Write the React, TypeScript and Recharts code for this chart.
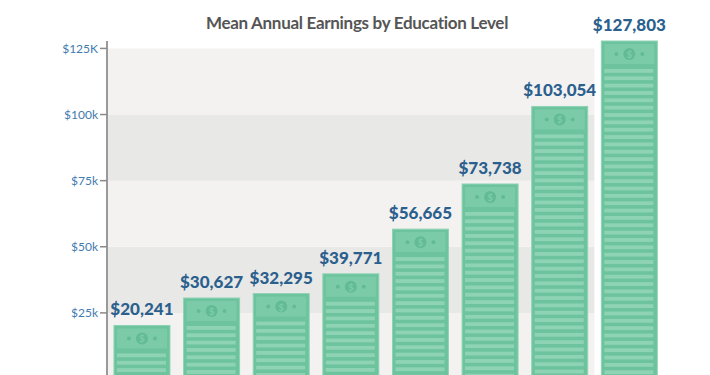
import { BarChart, Bar, XAxis, YAxis, ReferenceArea, LabelList } from 'recharts';

const LEVELS = [
    'No HS Diploma',
    'High School',
    'Some College',
    'Associate',
    "Bachelor's",
    "Master's",
    'Doctorate',
    'Professional',
];
const EARNINGS = [20241, 30627, 32295, 39771, 56665, 73738, 103054, 127803];
const Y_TICKS = [0, 25000, 50000, 75000, 100000, 125000];
const Y_TICK_LABELS = ['0', '$25k', '$50k', '$75k', '$100k', '$125K'];
const BANDS = [
    { from: 0, to: 25000, dark: false },
    { from: 25000, to: 50000, dark: true },
    { from: 50000, to: 75000, dark: false },
    { from: 75000, to: 100000, dark: true },
    { from: 100000, to: 125000, dark: false },
];

const data = LEVELS.map((level, i) => ({ level, earnings: EARNINGS[i] }));

const GREEN = '#6cc39e';
const GREEN_DARK = '#62bb95';
const GREEN_LIGHT = '#8fd3b5';
const BILL_INNER = '#7ccba8';

// one bar drawn as a stack of bank notes
function MoneyBar(props: any) {
    const { x, y, width, height } = props;
    if (!height || height <= 0) return null;
    const billH = 24;
    const cx = x + width / 2;
    const cy = y + billH / 2 + 1;
    const stripes = [];
    for (let sy = y + billH + 4; sy < y + height; sy += 7.35) {
        stripes.push(
            <rect key={sy} x={x + 3} y={sy} width={width - 7} height={3.8} fill={GREEN_LIGHT} />
        );
    }
    return (
        <g>
            <rect x={x} y={y} width={width} height={height} fill={GREEN} stroke={GREEN_LIGHT} strokeWidth={1} />
            <rect x={x + 3} y={y + 3} width={width - 6} height={billH - 4} fill={BILL_INNER} />
            <circle cx={cx} cy={cy} r={6} fill={GREEN_DARK} />
            <text x={cx} y={cy + 4} textAnchor="middle" fontSize={10} fontWeight={700} fill={BILL_INNER} fontFamily="Lato">$</text>
            <circle cx={cx - 13} cy={cy} r={2} fill={GREEN_DARK} />
            <circle cx={cx + 13} cy={cy} r={2} fill={GREEN_DARK} />
            {stripes}
        </g>
    );
}

const fmtMoney = (v: any) => '$' + Number(v).toLocaleString('en-US');

export default function App() {
    return (
        <div style={{ position: 'relative', width: 702, height: 401, fontFamily: 'Lato, sans-serif' }}>
            <div
                style={{
                    position: 'absolute',
                    top: 4,
                    left: 0,
                    width: 702,
                    textAlign: 'center',
                    fontSize: 17,
                    fontWeight: 700,
                    letterSpacing: -0.3,
                    color: '#555555',
                    lineHeight: '22px',
                    paddingRight: 4,
                    boxSizing: 'border-box',
                }}
            >
                Mean Annual Earnings by Education Level
            </div>
            <BarChart
                width={702}
                height={401}
                data={data}
                margin={{ top: 33, right: 46, bottom: 0, left: 39 }}
                barCategoryGap="10%"
            >
                {BANDS.map(b => (
                    <ReferenceArea
                        key={b.from}
                        x1={LEVELS[0]}
                        x2={LEVELS[6]}
                        y1={b.from}
                        y2={b.to}
                        fill={b.dark ? '#e8e8e6' : '#f3f2f0'}
                        fillOpacity={1}
                        stroke="none"
                    />
                ))}
                <XAxis dataKey="level" height={30} axisLine={false} tickLine={false} tick={false} />
                <YAxis
                    width={60}
                    domain={[0, 125000]}
                    ticks={Y_TICKS}
                    tickFormatter={(v: number) => Y_TICK_LABELS[Y_TICKS.indexOf(v)]}
                    axisLine={{ stroke: '#9a9a9a', strokeWidth: 2 }}
                    tickLine={{ stroke: '#8a8a8a', strokeWidth: 1.5 }}
                    tickSize={7}
                    tick={{ fontSize: 12, fill: '#3f7bb0' }}
                    interval={0}
                />
                <Bar dataKey="earnings" shape={MoneyBar} isAnimationActive={false}>
                    <LabelList
                        dataKey="earnings"
                        position="top"
                        offset={10}
                        formatter={fmtMoney}
                        style={{ fontSize: 17, fontWeight: 900, fill: '#2b5f8e' }}
                    />
                </Bar>
            </BarChart>
        </div>
    );
}
